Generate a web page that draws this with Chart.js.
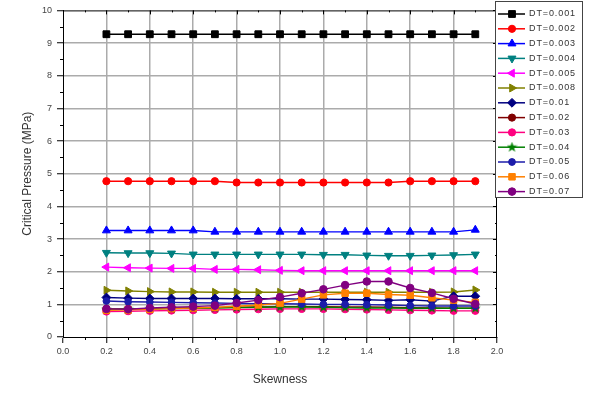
<!DOCTYPE html>
<html lang="en">
<head>
    <meta charset="UTF-8">
    <title>Critical Pressure vs Skewness</title>
    <script src="https://cdn.jsdelivr.net/npm/chart.js"></script>
    <style>
        body { margin: 0; background: #fff; }
        #wrap { width: 590px; height: 405px; }
    </style>
</head>
<body>
<div id="wrap"><canvas id="chart" width="590" height="405"></canvas></div>
<script>
    // skewness values (x)
    const skewness = [0.2, 0.3, 0.4, 0.5, 0.6, 0.7, 0.8, 0.9, 1.0, 1.1, 1.2, 1.3, 1.4, 1.5, 1.6, 1.7, 1.8, 1.9];

    const labels = ['DT=0.001', 'DT=0.002', 'DT=0.003', 'DT=0.004', 'DT=0.005', 'DT=0.008', 'DT=0.01',
                    'DT=0.02', 'DT=0.03', 'DT=0.04', 'DT=0.05', 'DT=0.06', 'DT=0.07'];

    // critical pressure (MPa), one array per DT
    const dt001 = [9.27, 9.27, 9.27, 9.27, 9.27, 9.27, 9.27, 9.27, 9.27, 9.27, 9.27, 9.27, 9.27, 9.27, 9.27, 9.27, 9.27, 9.27];
    const dt002 = [4.77, 4.77, 4.77, 4.77, 4.77, 4.77, 4.73, 4.73, 4.73, 4.73, 4.73, 4.73, 4.73, 4.73, 4.77, 4.77, 4.77, 4.77];
    const dt003 = [3.26, 3.26, 3.26, 3.26, 3.26, 3.22, 3.22, 3.22, 3.22, 3.22, 3.22, 3.22, 3.22, 3.22, 3.22, 3.22, 3.22, 3.28];
    const dt004 = [2.58, 2.57, 2.57, 2.56, 2.53, 2.53, 2.53, 2.53, 2.53, 2.53, 2.52, 2.52, 2.50, 2.49, 2.49, 2.50, 2.51, 2.53];
    const dt005 = [2.14, 2.12, 2.11, 2.10, 2.10, 2.07, 2.07, 2.06, 2.04, 2.03, 2.03, 2.03, 2.03, 2.03, 2.03, 2.03, 2.03, 2.03];
    const dt008 = [1.43, 1.41, 1.39, 1.38, 1.38, 1.37, 1.37, 1.37, 1.37, 1.37, 1.37, 1.37, 1.37, 1.37, 1.37, 1.37, 1.38, 1.44];
    const dt01  = [1.21, 1.19, 1.18, 1.18, 1.18, 1.18, 1.17, 1.17, 1.17, 1.16, 1.16, 1.15, 1.14, 1.12, 1.14, 1.10, 1.25, 1.25];
    const dt02  = [0.86, 0.86, 0.87, 0.88, 0.89, 0.90, 0.91, 0.92, 0.93, 0.93, 0.93, 0.92, 0.92, 0.91, 0.90, 0.89, 0.88, 0.88];
    const dt03  = [0.78, 0.79, 0.80, 0.81, 0.82, 0.83, 0.84, 0.85, 0.86, 0.86, 0.86, 0.85, 0.84, 0.83, 0.82, 0.81, 0.80, 0.80];
    const dt04  = [0.84, 0.85, 0.86, 0.87, 0.88, 0.89, 0.90, 0.91, 0.92, 0.92, 0.91, 0.90, 0.89, 0.89, 0.88, 0.88, 0.88, 0.88];
    const dt05  = [1.10, 1.08, 1.07, 1.06, 1.05, 1.04, 1.03, 1.02, 1.02, 1.01, 1.00, 1.00, 0.99, 0.98, 0.96, 0.95, 0.95, 0.95];
    const dt06  = [0.82, 0.83, 0.85, 0.87, 0.89, 0.91, 0.94, 0.98, 1.03, 1.16, 1.29, 1.34, 1.34, 1.30, 1.28, 1.20, 1.13, 1.06];
    const dt07  = [0.86, 0.85, 0.89, 0.91, 0.93, 0.96, 1.04, 1.13, 1.22, 1.34, 1.46, 1.59, 1.70, 1.70, 1.50, 1.35, 1.17, 1.01];

    const series = [dt001, dt002, dt003, dt004, dt005, dt008, dt01, dt02, dt03, dt04, dt05, dt06, dt07];

    // filled five point star for DT=0.04
    function makeStar(color) {
        const c = document.createElement('canvas');
        c.width = 11; c.height = 11;
        const g = c.getContext('2d');
        g.fillStyle = color;
        g.beginPath();
        for (let i = 0; i < 10; i++) {
            const r = i % 2 === 0 ? 5.5 : 2.3;
            const a = -Math.PI / 2 + i * Math.PI / 5;
            g.lineTo(5.5 + r * Math.cos(a), 5.5 + r * Math.sin(a));
        }
        g.closePath();
        g.fill();
        return c;
    }

    const styles = [
        { color: '#000000', point: 'rect', radius: 4.8 },
        { color: '#ff0000', point: 'circle', radius: 3.6 },
        { color: '#0000ff', point: 'triangle', radius: 4.6 },
        { color: '#008080', point: 'triangle', radius: 4.6, rotation: 180 },
        { color: '#ff00ff', point: 'triangle', radius: 4.6, rotation: 270 },
        { color: '#808000', point: 'triangle', radius: 4.6, rotation: 90 },
        { color: '#000080', point: 'rectRot', radius: 4.4 },
        { color: '#800000', point: 'circle', radius: 3.6 },
        { color: '#ff0080', point: 'circle', radius: 3.6 },
        { color: '#008000', point: makeStar('#008000'), radius: 4.5 },
        { color: '#1c1caa', point: 'circle', radius: 3.4 },
        { color: '#ff8000', point: 'rect', radius: 4.6 },
        { color: '#800080', point: 'circle', radius: 3.8 }
    ];

    const datasets = series.map((vals, i) => ({
        label: labels[i],
        data: vals.map((v, k) => ({ x: skewness[k], y: v })),
        borderColor: styles[i].color,
        backgroundColor: styles[i].color,
        pointBackgroundColor: styles[i].color,
        pointBorderColor: styles[i].color,
        pointStyle: styles[i].point,
        pointRotation: styles[i].rotation || 0,
        pointRadius: styles[i].radius,
        pointBorderWidth: 1,
        borderWidth: 1.4,
        tension: 0,
        order: series.length - i
    }));

    const FONT = "'Liberation Sans', Arial, sans-serif";
    const gridGray = '#ababab';

    const isMajorX = v => Math.round(v * 10) % 2 === 0;
    const isMajorY = v => Math.abs(v - Math.round(v)) < 1e-6;

    // minor ticks, frame on top/right and inward ticks there
    const framePlugin = {
        id: 'frame',
        afterDraw(chart) {
            const ctx = chart.ctx;
            const a = chart.chartArea;
            const xs = chart.scales.x, ys = chart.scales.y;
            ctx.save();
            ctx.strokeStyle = '#000';
            ctx.lineWidth = 1;
            ctx.beginPath();
            ctx.moveTo(a.left, a.top + 0.5); ctx.lineTo(a.right, a.top + 0.5);
            ctx.moveTo(a.right - 0.5, a.top); ctx.lineTo(a.right - 0.5, a.bottom);
            xs.ticks.forEach(t => {
                const px = Math.round(xs.getPixelForValue(t.value)) + 0.5;
                const len = isMajorX(t.value) ? 4 : 2;
                if (!isMajorX(t.value)) {
                    ctx.moveTo(px, a.bottom); ctx.lineTo(px, a.bottom + 3);
                }
                ctx.moveTo(px, a.top); ctx.lineTo(px, a.top + len);
            });
            ys.ticks.forEach(t => {
                const py = Math.round(ys.getPixelForValue(t.value)) + 0.5;
                const len = isMajorY(t.value) ? 4 : 2;
                if (!isMajorY(t.value)) {
                    ctx.moveTo(a.left - 3, py); ctx.lineTo(a.left, py);
                }
                ctx.moveTo(a.right, py); ctx.lineTo(a.right - len, py);
            });
            ctx.stroke();
            ctx.restore();
        }
    };

    // boxed legend to the right of the plot, line + marker per entry
    const legendPlugin = {
        id: 'boxLegend',
        afterDraw(chart) {
            const ctx = chart.ctx;
            const a = chart.chartArea;
            const left = a.right - 2, top = 1, w = 88, h = 197;
            ctx.save();
            ctx.fillStyle = '#fff';
            ctx.fillRect(left, top, w, h);
            ctx.strokeStyle = '#444';
            ctx.lineWidth = 1;
            ctx.strokeRect(left + 0.5, top + 0.5, w - 1, h - 1);
            ctx.font = '9px ' + FONT;
            ctx.textBaseline = 'middle';
            if ('letterSpacing' in ctx) ctx.letterSpacing = '0.9px';
            chart.data.datasets.forEach((ds, i) => {
                const y = 14 + i * 14.8;
                ctx.strokeStyle = ds.borderColor;
                ctx.lineWidth = 1.5;
                ctx.beginPath();
                ctx.moveTo(left + 3, y); ctx.lineTo(left + 30, y);
                ctx.stroke();
                ctx.fillStyle = ds.backgroundColor;
                ctx.strokeStyle = ds.borderColor;
                ctx.lineWidth = 1;
                Chart.helpers.drawPoint(ctx, {
                    pointStyle: ds.pointStyle,
                    rotation: ds.pointRotation,
                    radius: ds.pointRadius,
                    borderWidth: 1
                }, left + 17, y);
                ctx.fillStyle = '#333';
                ctx.fillText(ds.label, left + 34, y);
            });
            ctx.restore();
        }
    };

    new Chart(document.getElementById('chart').getContext('2d'), {
        type: 'line',
        data: { datasets },
        plugins: [framePlugin, legendPlugin],
        options: {
            responsive: false,
            animation: false,
            layout: { padding: { left: 0, right: 93, top: 4, bottom: 0 } },
            plugins: { legend: { display: false }, tooltip: { enabled: false } },
            scales: {
                x: {
                    type: 'linear',
                    min: 0,
                    max: 2,
                    afterFit: s => { s.height = 68; },
                    ticks: {
                        stepSize: 0.1,
                        autoSkip: false,
                        maxRotation: 0,
                        padding: 3,
                        color: '#444',
                        font: { family: FONT, size: 9 },
                        callback: v => isMajorX(v) ? v.toFixed(1) : ''
                    },
                    grid: {
                        color: c => (c.tick && isMajorX(c.tick.value) && c.tick.value > 0.01 && c.tick.value < 1.99) ? gridGray : 'rgba(0,0,0,0)',
                        lineWidth: 1.5,
                        tickColor: c => (c.tick && isMajorX(c.tick.value)) ? '#000' : 'rgba(0,0,0,0)',
                        tickLength: 6,
                        tickWidth: 1
                    },
                    border: { color: '#000', width: 1 },
                    title: {
                        display: true,
                        text: 'Skewness',
                        color: '#333',
                        font: { family: FONT, size: 12 },
                        padding: { top: 0, bottom: 18 }
                    }
                },
                y: {
                    type: 'linear',
                    min: 0,
                    max: 10,
                    afterFit: s => { s.width = 63; },
                    ticks: {
                        stepSize: 0.5,
                        autoSkip: false,
                        padding: 5,
                        color: '#444',
                        font: { family: FONT, size: 9 },
                        callback: v => isMajorY(v) ? String(Math.round(v)) : ''
                    },
                    grid: {
                        color: c => (c.tick && isMajorY(c.tick.value) && c.tick.value > 0.01 && c.tick.value < 9.99) ? gridGray : 'rgba(0,0,0,0)',
                        lineWidth: 1.5,
                        tickColor: c => (c.tick && isMajorY(c.tick.value)) ? '#000' : 'rgba(0,0,0,0)',
                        tickLength: 6,
                        tickWidth: 1
                    },
                    border: { color: '#000', width: 1 },
                    title: {
                        display: true,
                        text: 'Critical Pressure (MPa)',
                        color: '#333',
                        font: { family: FONT, size: 12 },
                        padding: { top: 20, bottom: 0 }
                    }
                }
            }
        }
    });
</script>
</body>
</html>
